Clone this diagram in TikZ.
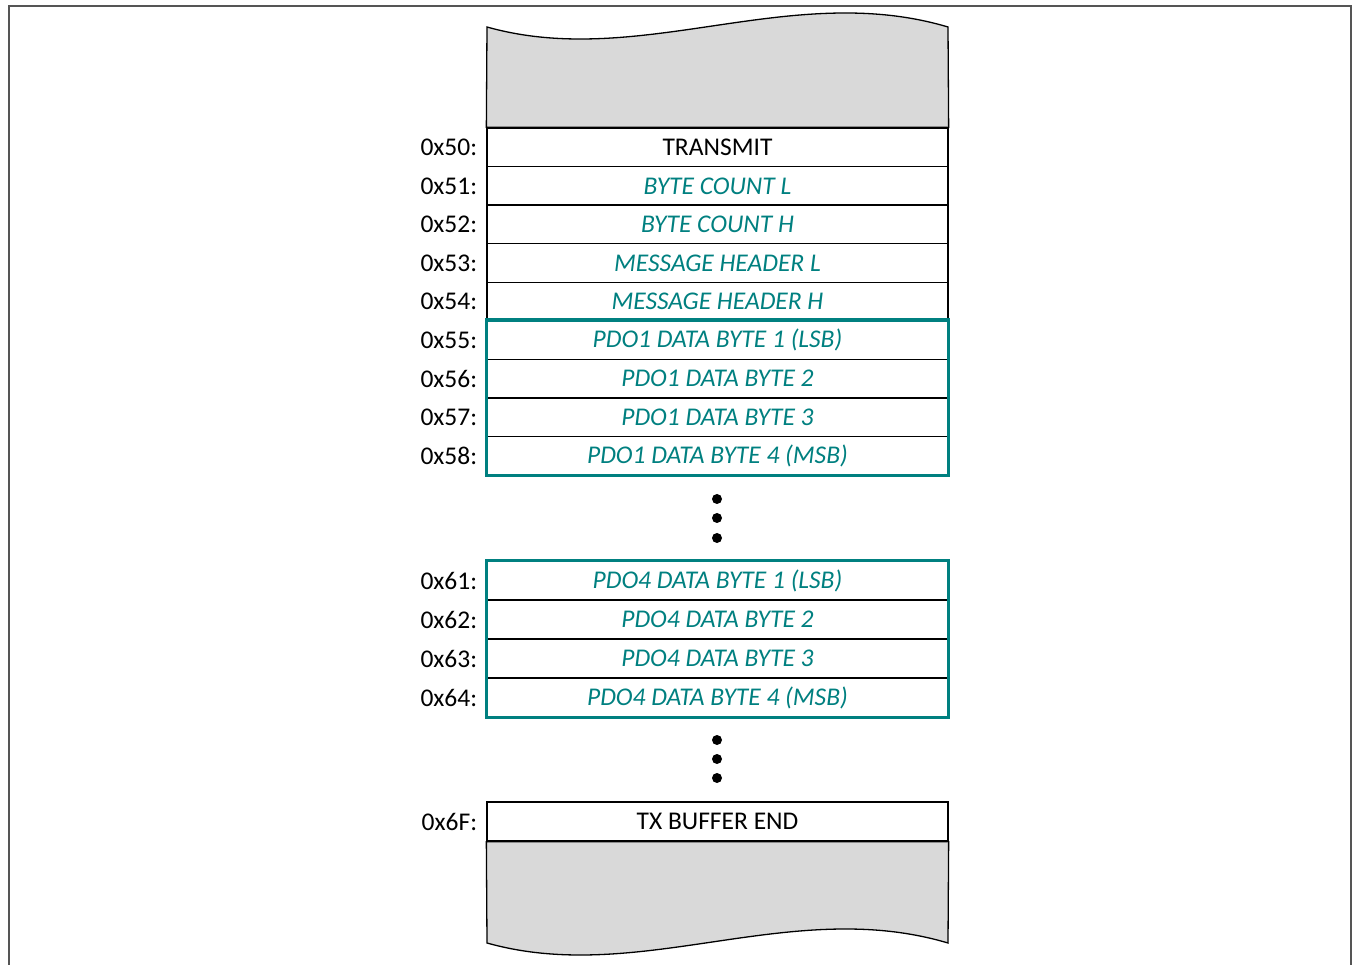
\documentclass[tikz,border=0pt]{standalone}
\usepackage{fontspec}
\setmainfont{Carlito}
\usetikzlibrary{positioning, calc}
\definecolor{regteal}{RGB}{0, 128, 128}
\definecolor{regshade}{RGB}{217, 217, 217}
\definecolor{framegray}{RGB}{85, 85, 85}
\newcommand{\regfont}{\fontsize{25.5}{30}\selectfont}
\tikzset{
  regrow/.style={rectangle, draw=black, fill=white, line width=1.3pt,
                 minimum width=461pt, minimum height=#1, inner sep=0pt, font=\regfont},
  regrow/.default=38.56pt,
  plain/.style={text=black},
  field/.style={text=regteal, font=\regfont\itshape},
  addrlabel/.style={inner sep=0pt, font=\regfont},
  pdobox/.style={draw=regteal, line width=3.6pt},
  shade/.style={fill=regshade, draw=black, line width=1.3pt},
}

\begin{document}
\begin{tikzpicture}[x=1pt, y=-1pt]
  \useasboundingbox (0,0) rectangle (1353,965);
  \draw[framegray, line width=2pt] (9,970) -- (9,6) -- (1351,6) -- (1351,970);

  % header and first PDO
  \foreach \addr/\txt/\sty [count=\i from 0] in
    {50/TRANSMIT/plain, 51/BYTE COUNT L/field, 52/BYTE COUNT H/field,
     53/MESSAGE HEADER L/field, 54/MESSAGE HEADER H/field,
     55/PDO1 DATA BYTE 1 (LSB)/field, 56/PDO1 DATA BYTE 2/field,
     57/PDO1 DATA BYTE 3/field, 58/PDO1 DATA BYTE 4 (MSB)/field}
  {
    \node[regrow, \sty] (r\addr) at (717.5, {128+38.56*(\i+0.5)}) {\txt};
    \node[addrlabel, left=9pt of r\addr] (l\addr) {0x\addr:};
  }

  % fourth PDO
  \foreach \addr/\txt [count=\i from 0] in
    {61/PDO4 DATA BYTE 1 (LSB), 62/PDO4 DATA BYTE 2,
     63/PDO4 DATA BYTE 3, 64/PDO4 DATA BYTE 4 (MSB)}
  {
    \node[regrow=39pt, field] (r\addr) at (717.5, {561+39*(\i+0.5)}) {\txt};
    \node[addrlabel, left=9pt of r\addr] (l\addr) {0x\addr:};
  }

  % buffer end
  \node[regrow=39pt, plain] (r6F) at (717.5, 821.5) {TX BUFFER END};
  \node[addrlabel, left=9pt of r6F] (l6F) {0x6F:};

  % PDO outlines
  \draw[pdobox] (r55.north west) rectangle (r58.south east);
  \draw[pdobox] (r61.north west) rectangle (r64.south east);

  % torn memory edges
  \draw[shade] (r50.north west) -- (487,27) .. controls (640,70) and (790,-20) .. (948,27)
    -- (r50.north east) -- cycle;
  \draw[shade] (r6F.south west) -- (487,943) .. controls (640,986) and (790,896) .. (948,943)
    -- (r6F.south east) -- cycle;

  % ellipsis dots
  \foreach \y in {499, 518, 538, 740, 759, 778}
    \fill (717,\y) circle (5pt);
\end{tikzpicture}
\end{document}
